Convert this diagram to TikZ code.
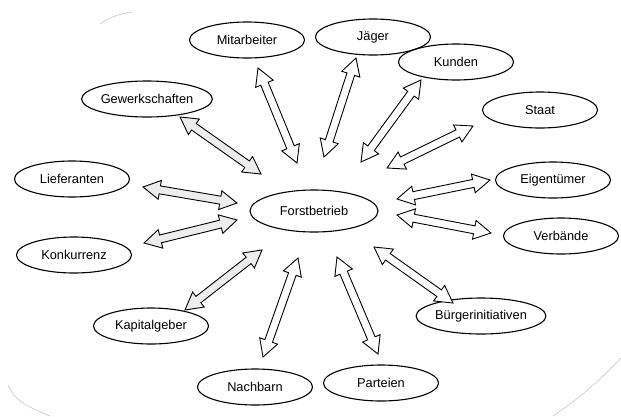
\documentclass[tikz,border=0pt]{standalone}
\usepackage{fontspec}
\setmainfont{Liberation Sans}
\usetikzlibrary{shapes.geometric,calc}
\tikzset{
  x=1pt,y=-1pt,
  party/.style={draw,ellipse,line width=1.1pt,minimum width=115pt,minimum height=36pt,inner sep=0pt,font=\fontsize{12.8}{14}\selectfont},
  center/.style={party,minimum width=128pt,minimum height=42pt},
  arr/.style={draw,line width=0.9pt,fill=white,line join=miter},
  arrg/.style={arr,fill=black!7},
  scan/.style={draw=black!25,line width=0.5pt}
}
\newcommand\hl{17pt}
\newcommand\hw{9.5pt}
\newcommand\sw{4pt}
\newcommand\dblarr[3]{%
  \path[#3] (#1) -- ($(#1)!\hl!(#2)!\hw!90:(#2)$) -- ($(#1)!\hl!(#2)!\sw!90:(#2)$)
  -- ($(#2)!\hl!(#1)!\sw!-90:(#1)$) -- ($(#2)!\hl!(#1)!\hw!-90:(#1)$) -- (#2)
  -- ($(#2)!\hl!(#1)!\hw!90:(#1)$) -- ($(#2)!\hl!(#1)!\sw!90:(#1)$)
  -- ($(#1)!\hl!(#2)!\sw!-90:(#2)$) -- ($(#1)!\hl!(#2)!\hw!-90:(#2)$) -- cycle;}
\begin{document}
\begin{tikzpicture}
\useasboundingbox (0,0) rectangle (621,416);
\fill[white] (0,0) rectangle (621,416);
% faint scan edges
\draw[scan] (8,385) .. controls (14,398) and (20,404) .. (50,416);
\draw[scan] (621,358) .. controls (600,380) and (580,398) .. (553,416);
\draw[scan] (100,24) .. controls (108,18) and (118,14) .. (132,12);

\node[center] (F) at (314,211) {Forstbetrieb};
\node[party] (mit) at (247,40) {Mitarbeiter};
\node[party] (jae) at (373,37) {Jäger};
\node[party] (kun) at (456,62) {Kunden};
\node[party] (sta) at (540,110) {Staat};
\node[party] (eig) at (553,180) {Eigentümer};
\node[party] (ver) at (561,236) {Verbände};
\node[party] (bue) at (481,316) {Bürgerinitiativen};
\node[party] (par) at (381,383) {Parteien};
\node[party] (nac) at (255,387) {Nachbarn};
\node[party] (kap) at (151,326) {Kapitalgeber};
\node[party] (kon) at (74,255) {Konkurrenz};
\node[party] (lie) at (72,179) {Lieferanten};
\node[party] (gew) at (147,99) {Gewerkschaften};

% arrow end points
\coordinate (mitA) at (258,68);  \coordinate (mitB) at (297,163);
\coordinate (jaeA) at (356,58);  \coordinate (jaeB) at (324,157);
\coordinate (kunA) at (421,80);  \coordinate (kunB) at (361,162);
\coordinate (staA) at (473,126); \coordinate (staB) at (387,168);
\coordinate (eigA) at (490,180); \coordinate (eigB) at (397,199);
\coordinate (verA) at (491,233); \coordinate (verB) at (397,215);
\coordinate (bueA) at (453,303); \coordinate (bueB) at (374,247);
\coordinate (parA) at (378,354); \coordinate (parB) at (337,257);
\coordinate (nacA) at (263,357); \coordinate (nacB) at (298,258);
\coordinate (kapA) at (185,310); \coordinate (kapB) at (262,250);
\coordinate (konA) at (144,243); \coordinate (konB) at (237,220);
\coordinate (lieA) at (143,187); \coordinate (lieB) at (237,203);
\coordinate (gewA) at (180,117); \coordinate (gewB) at (261,174);

\dblarr{mitA}{mitB}{arr}
\dblarr{jaeA}{jaeB}{arr}
\dblarr{kunA}{kunB}{arr}
\dblarr{staA}{staB}{arr}
\dblarr{eigA}{eigB}{arr}
\dblarr{verA}{verB}{arr}
\dblarr{bueA}{bueB}{arr}
\dblarr{parA}{parB}{arr}
\dblarr{nacA}{nacB}{arr}
\dblarr{kapA}{kapB}{arrg}
\dblarr{konA}{konB}{arrg}
\dblarr{lieA}{lieB}{arrg}
\dblarr{gewA}{gewB}{arrg}
\end{tikzpicture}
\end{document}
